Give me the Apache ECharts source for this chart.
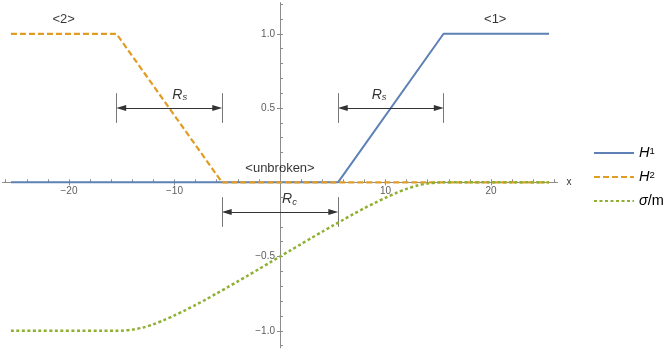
<!DOCTYPE html>
<html><head><meta charset="utf-8">
<script src="https://cdn.jsdelivr.net/npm/echarts@6/dist/echarts.min.js"></script>
<style>html,body{margin:0;padding:0;background:#fff}#c{width:664px;height:350px}</style>
</head><body><div id="c"></div>
<script>
// ---- data ----
const h1X = [-25.5, 5.5, 15.5, 25.5];
const h1Y = [0, 0, 1, 1];
const h2X = [-25.5, -15.5, -5.5, 25.5];
const h2Y = [1, 1, 0, 0];
const sigmaX = [-25.5, -15.5, -15, -14, -13, -12, -11, -10, -9, -8, -7, -6, -5, -4, -3, -2, -1, 0,
                1, 2, 3, 4, 5, 6, 7, 8, 9, 10, 11, 12, 13, 14, 15, 15.5, 25.5];
const sigmaY = [-1, -1, -0.999, -0.992, -0.978, -0.956, -0.928, -0.896, -0.862, -0.826, -0.788, -0.748,
                -0.708, -0.667, -0.626, -0.584, -0.542, -0.5,
                -0.458, -0.416, -0.374, -0.333, -0.292, -0.252, -0.212, -0.174, -0.138, -0.104,
                -0.072, -0.044, -0.022, -0.008, -0.001, 0, 0];
const seriesNames = ['H1', 'H2', 'σ/m'];
const xMajorTicks = [-20, -10, 10, 20];
const xTickLabels = ['\u221220', '\u221210', '10', '20'];
const xMinorTicks = [-26, -24, -22, -20, -18, -16, -14, -12, -10, -8, -6, -4, -2, 2, 4, 6, 8, 10, 12, 14, 16, 18, 20, 22, 24, 26];
const yMajorTicks = [-1, -0.5, 0.5, 1];
const yTickLabels = ['\u22121.0', '\u22120.5', '0.5', '1.0'];
const yMinorTicks = [-1.1, -1, -0.9, -0.8, -0.7, -0.6, -0.5, -0.4, -0.3, -0.2, -0.1, 0.1, 0.2, 0.3, 0.4, 0.5, 0.6, 0.7, 0.8, 0.9, 1, 1.1, 1.2];
// annotations
const annoText = ['<2>', '<1>', '<unbroken>', '{r|R}{s|s}', '{r|R}{s|s}', '{r|R}{s|c}'];
const annoX = [-20.5, 20.4, 0, -9.5, 9.4, 0.9];
const annoY = [1.1, 1.1, 0.094, 0.59, 0.59, -0.115];
const arrowX1 = [-15.5, 5.5, -5.5];
const arrowX2 = [-5.5, 15.5, 5.5];
const arrowY = [0.5, 0.5, -0.2];
const barHalf = [0.1, 0.1, 0.1];

// ---- chart ----
const X_MIN = -26.3, X_MAX = 26.3, Y_MIN = -1.115, Y_MAX = 1.21;
const toPairs = (xs, ys) => xs.map((x, i) => [x, ys[i]]);

const axisGray = '#8c8c8c';
const labelGray = '#333';
const FONT = '"Liberation Sans", Arial, sans-serif';

const markData = [];
arrowX1.forEach((x1, i) => {
  const x2 = arrowX2[i], y = arrowY[i], h = barHalf[i];
  const inset = 0.45;
  markData.push([{coord: [x1 + inset, y], symbol: 'triangle', symbolSize: [6, 10]},
                 {coord: [x2 - inset, y], symbol: 'triangle', symbolSize: [6, 10]}]);
  markData.push([{coord: [x1, y - h], lineStyle: {color: '#777'}}, {coord: [x1, y + h]}]);
  markData.push([{coord: [x2, y - h], lineStyle: {color: '#777'}}, {coord: [x2, y + h]}]);
});

const richSub = {
  r: {fontStyle: 'italic', fontSize: 14, fontFamily: FONT, color: '#000', lineHeight: 16},
  s: {fontStyle: 'italic', fontSize: 9.5, fontFamily: FONT, color: '#000', verticalAlign: 'bottom', lineHeight: 10}
};

const chart = echarts.init(document.getElementById('c'), null, {renderer: 'canvas'});
chart.setOption({
  animation: false,
  backgroundColor: '#fff',
  grid: {left: 2.5, top: 2.6, width: 555, height: 345.3, containLabel: false, outerBoundsMode: 'none'},
  legend: {
    orient: 'vertical', left: 588, top: 140.5, itemWidth: 40, itemHeight: 10, itemGap: 9,
    selectedMode: false, data: seriesNames,
    itemStyle: {opacity: 0},
    formatter: function (n) {
      if (n === 'H1') return '{i|H}{sup|1}';
      if (n === 'H2') return '{i|H}{sup|2}';
      return '{i|σ}{n|/m}';
    },
    textStyle: {
      fontSize: 13, color: '#000', fontFamily: FONT,
      rich: {
        i: {fontStyle: 'italic', fontSize: 14.5, fontFamily: FONT, color: '#000', lineHeight: 14},
        n: {fontSize: 14.5, fontFamily: FONT, color: '#000', lineHeight: 14},
        sup: {fontSize: 9.5, fontFamily: FONT, color: '#000', verticalAlign: 'top', lineHeight: 9}
      }
    }
  },
  xAxis: [{
    type: 'value', min: X_MIN, max: X_MAX, position: 'bottom',
    axisLine: {onZero: true, lineStyle: {color: axisGray, width: 1}},
    axisTick: {show: true, inside: false, length: 3, customValues: xMajorTicks, lineStyle: {color: axisGray}},
    axisLabel: {show: false},
    splitLine: {show: false},
    name: 'x', nameLocation: 'end', nameGap: 9,
    nameTextStyle: {fontSize: 10, color: labelGray, fontFamily: FONT, verticalAlign: 'middle'}
  }, {
    type: 'value', min: X_MIN, max: X_MAX, position: 'bottom',
    axisLine: {show: false, onZero: true, onZeroAxisIndex: 0},
    axisTick: {show: true, inside: true, length: 3, customValues: xMinorTicks, lineStyle: {color: axisGray}},
    axisLabel: {show: false},
    splitLine: {show: false}
  }],
  yAxis: [{
    type: 'value', min: Y_MIN, max: Y_MAX, position: 'left',
    axisLine: {onZero: true, lineStyle: {color: axisGray, width: 1}},
    axisTick: {show: true, inside: false, length: 3, customValues: yMajorTicks, lineStyle: {color: axisGray}},
    axisLabel: {show: false},
    splitLine: {show: false}
  }, {
    type: 'value', min: Y_MIN, max: Y_MAX, position: 'left',
    axisLine: {show: false, onZero: true, onZeroAxisIndex: 0},
    axisTick: {show: true, inside: true, length: 3, customValues: yMinorTicks, lineStyle: {color: axisGray}},
    axisLabel: {show: false},
    splitLine: {show: false}
  }],
  series: [{
    name: 'H1', type: 'line', data: toPairs(h1X, h1Y), symbol: 'none', xAxisIndex: 0, yAxisIndex: 0,
    lineStyle: {color: '#5E81B5', width: 2, type: 'solid'}, itemStyle: {color: '#5E81B5'}, z: 3
  }, {
    name: 'H2', type: 'line', data: toPairs(h2X, h2Y), symbol: 'none', xAxisIndex: 0, yAxisIndex: 0,
    lineStyle: {color: '#E19C24', width: 2.2, type: [6, 3]}, itemStyle: {color: '#E19C24'}, z: 4
  }, {
    name: 'σ/m', type: 'line', data: toPairs(sigmaX, sigmaY), symbol: 'none', smooth: 0.3, xAxisIndex: 0, yAxisIndex: 0,
    lineStyle: {color: '#8FB032', width: 2.5, type: [3, 2.5]}, itemStyle: {color: '#8FB032'}, z: 5
  }, {
    name: 'xTickLabels', type: 'scatter', symbolSize: 0, silent: true, xAxisIndex: 0, yAxisIndex: 0,
    data: xMajorTicks.map((v, i) => ({value: [v, 0], label: {formatter: xTickLabels[i]}})),
    label: {show: true, position: 'bottom', distance: 3.5, color: labelGray, fontSize: 10, fontFamily: FONT},
    z: 2
  }, {
    name: 'yTickLabels', type: 'scatter', symbolSize: 0, silent: true, xAxisIndex: 0, yAxisIndex: 0,
    data: yMajorTicks.map((v, i) => ({value: [0, v], label: {formatter: yTickLabels[i]}})),
    label: {show: true, position: 'left', distance: 5, color: labelGray, fontSize: 10, fontFamily: FONT},
    z: 2
  }, {
    name: 'annotations', type: 'scatter', symbolSize: 0, xAxisIndex: 0, yAxisIndex: 0, silent: true,
    data: annoX.map((x, i) => ({value: [x, annoY[i]], label: {formatter: annoText[i]}})),
    label: {show: true, position: 'inside', color: '#000', fontSize: 13, fontFamily: FONT, rich: richSub},
    markLine: {
      silent: true, symbol: 'none', animation: false,
      lineStyle: {color: '#333', width: 1, type: 'solid'},
      label: {show: false}, emphasis: {disabled: true},
      data: markData
    },
    z: 6
  }]
});
</script></body></html>
